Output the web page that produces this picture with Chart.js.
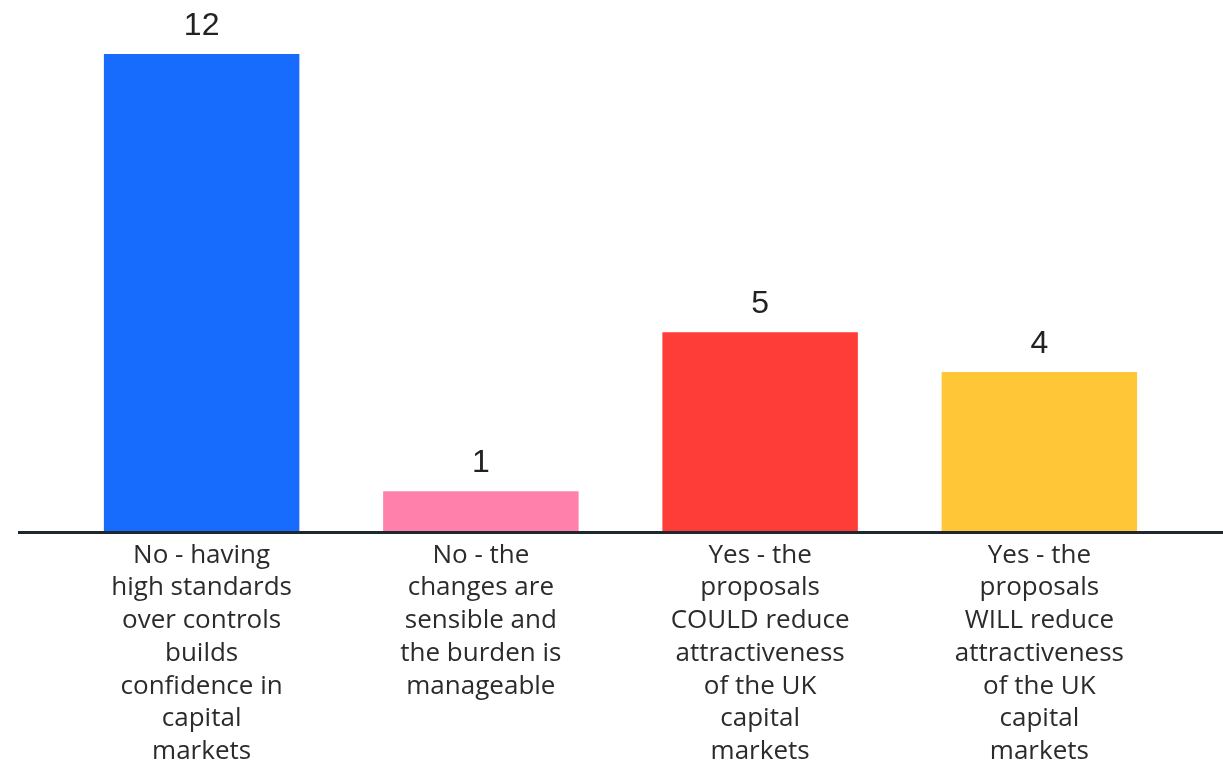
<!DOCTYPE html>
<html>
<head>
<meta charset="utf-8">
<script src="https://cdn.jsdelivr.net/npm/chart.js@4/dist/chart.umd.min.js"></script>
<style>
  html, body { margin: 0; padding: 0; background: #ffffff; }
  #wrap { width: 1223px; height: 766px; }
</style>
</head>
<body>
<div id="wrap"><canvas id="chart" width="1223" height="766"></canvas></div>
<script>
// Survey answers and response counts
const categories = [
  ["No - having", "high standards", "over controls", "builds", "confidence in", "capital", "markets"],
  ["No - the", "changes are", "sensible and", "the burden is", "manageable"],
  ["Yes - the", "proposals", "COULD reduce", "attractiveness", "of the UK", "capital", "markets"],
  ["Yes - the", "proposals", "WILL reduce", "attractiveness", "of the UK", "capital", "markets"]
];
const responses = [12, 1, 5, 4];
const barColors = ["#176cfd", "#ff80aa", "#ff3d38", "#ffc638"];

// Count above each bar
const valueLabels = {
  id: "valueLabels",
  afterDatasetsDraw(chart) {
    const ctx = chart.ctx;
    const meta = chart.getDatasetMeta(0);
    ctx.save();
    ctx.font = "32px 'Liberation Sans', Arial, sans-serif";
    ctx.fillStyle = "#222222";
    ctx.textAlign = "center";
    ctx.textBaseline = "middle";
    meta.data.forEach((bar, i) => {
      ctx.fillText(String(responses[i]), bar.x, bar.y - 28);
    });
    ctx.restore();
  }
};

// Baseline running across the full width at zero
const baseline = {
  id: "baseline",
  afterDatasetsDraw(chart) {
    const ctx = chart.ctx;
    const y = chart.scales.y.getPixelForValue(0);
    ctx.save();
    ctx.strokeStyle = "#1f2730";
    ctx.lineWidth = 3;
    ctx.beginPath();
    ctx.moveTo(18, y + 1.5);
    ctx.lineTo(chart.width, y + 1.5);
    ctx.stroke();
    ctx.restore();
  }
};

new Chart(document.getElementById("chart"), {
  type: "bar",
  data: {
    labels: categories,
    datasets: [{
      data: responses,
      backgroundColor: barColors,
      borderWidth: 0,
      barPercentage: 0.7,
      categoryPercentage: 1.0
    }]
  },
  options: {
    responsive: false,
    animation: false,
    layout: { padding: { top: 54, left: 62, right: 44, bottom: 0 } },
    plugins: {
      legend: { display: false },
      tooltip: { enabled: false }
    },
    scales: {
      x: {
        grid: { display: false, drawTicks: false },
        border: { display: false },
        afterFit(scale) { scale.height = 235; },
        ticks: {
          padding: 8,
          color: "#2b2b2b",
          maxRotation: 0,
          autoSkip: false,
          font: { family: "'Open Sans', Lato, sans-serif", size: 26, lineHeight: 1.258 }
        }
      },
      y: {
        display: false,
        min: 0,
        max: 12
      }
    }
  },
  plugins: [valueLabels, baseline]
});
</script>
</body>
</html>
